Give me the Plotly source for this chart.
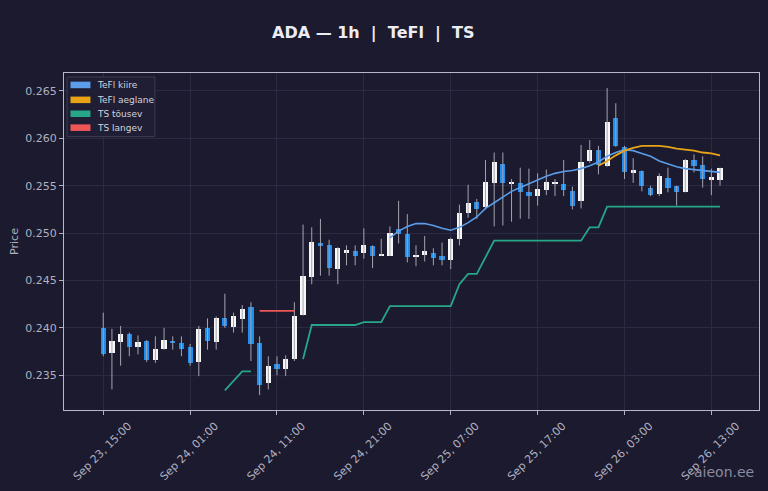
import plotly.graph_objects as go
import pandas as pd

# hourly candles, Sep 23 15:00 -> Sep 26 14:00
times = pd.date_range("2025-09-23 15:00", periods=72, freq="h")

opens = [0.2400, 0.2373, 0.2385, 0.2394, 0.2380, 0.2386, 0.2366, 0.2378, 0.2386, 0.2384,
         0.2380, 0.2364, 0.2400, 0.2385, 0.2410, 0.2401, 0.2409, 0.2422, 0.2384, 0.2342,
         0.2362, 0.2357, 0.2367, 0.2414, 0.2454, 0.2490, 0.2487, 0.2462, 0.2480, 0.2481,
         0.2479, 0.2486, 0.2476, 0.2476, 0.2504, 0.2499, 0.2475, 0.2477, 0.2479, 0.2476,
         0.2472, 0.2494, 0.2521, 0.2533, 0.2527, 0.2553, 0.2573, 0.2552, 0.2553, 0.2543,
         0.2539, 0.2545, 0.2552, 0.2552, 0.2544, 0.2534, 0.2576, 0.2588, 0.2571, 0.2621,
         0.2591, 0.2563, 0.2566, 0.2548, 0.2541, 0.2558, 0.2550, 0.2543, 0.2577, 0.2572,
         0.2556, 0.2556]
highs = [0.2416, 0.2399, 0.2402, 0.2395, 0.2392, 0.2387, 0.2391, 0.2400, 0.2391, 0.2391,
         0.2383, 0.2402, 0.2410, 0.2412, 0.2436, 0.2416, 0.2424, 0.2427, 0.2391, 0.2370,
         0.2370, 0.2371, 0.2427, 0.2509, 0.2506, 0.2515, 0.2493, 0.2485, 0.2487, 0.2487,
         0.2505, 0.2487, 0.2494, 0.2507, 0.2534, 0.2520, 0.2487, 0.2497, 0.2484, 0.2490,
         0.2495, 0.2530, 0.2551, 0.2536, 0.2577, 0.2585, 0.2585, 0.2557, 0.2569, 0.2568,
         0.2563, 0.2567, 0.2557, 0.2577, 0.2549, 0.2593, 0.2598, 0.2592, 0.2653, 0.2637,
         0.2592, 0.2579, 0.2566, 0.2550, 0.2563, 0.2569, 0.2550, 0.2578, 0.2583, 0.2581,
         0.2568, 0.2569]
lows = [0.2370, 0.2335, 0.2360, 0.2370, 0.2372, 0.2364, 0.2363, 0.2377, 0.2377, 0.2370,
        0.2360, 0.2349, 0.2377, 0.2377, 0.2400, 0.2395, 0.2395, 0.2365, 0.2329, 0.2335,
        0.2350, 0.2349, 0.2365, 0.2413, 0.2446, 0.2455, 0.2455, 0.2446, 0.2466, 0.2466,
        0.2473, 0.2463, 0.2476, 0.2476, 0.2489, 0.2469, 0.2465, 0.2470, 0.2466, 0.2466,
        0.2462, 0.2487, 0.2516, 0.2515, 0.2525, 0.2507, 0.2508, 0.2512, 0.2515, 0.2515,
        0.2529, 0.2540, 0.2539, 0.2539, 0.2525, 0.2526, 0.2574, 0.2562, 0.2570, 0.2591,
        0.2557, 0.2553, 0.2544, 0.2539, 0.2539, 0.2543, 0.2529, 0.2543, 0.2564, 0.2548,
        0.2540, 0.2550]
closes = [0.2372, 0.2386, 0.2393, 0.2380, 0.2385, 0.2366, 0.2378, 0.2387, 0.2384, 0.2378,
          0.2363, 0.2399, 0.2386, 0.2410, 0.2402, 0.2412, 0.2420, 0.2383, 0.2340, 0.2360,
          0.2357, 0.2367, 0.2413, 0.2455, 0.2491, 0.2486, 0.2463, 0.2484, 0.2482, 0.2476,
          0.2487, 0.2476, 0.2477, 0.2500, 0.2499, 0.2475, 0.2477, 0.2481, 0.2474, 0.2472,
          0.2494, 0.2521, 0.2532, 0.2525, 0.2554, 0.2575, 0.2553, 0.2554, 0.2543, 0.2539,
          0.2546, 0.2554, 0.2554, 0.2545, 0.2529, 0.2575, 0.2588, 0.2572, 0.2617, 0.2592,
          0.2564, 0.2567, 0.2550, 0.2540, 0.2560, 0.2548, 0.2543, 0.2577, 0.2571, 0.2557,
          0.2559, 0.2569]

# indicators (None = not drawn)
tefl_fast = [None] * 33 + [
    0.2495, 0.2502, 0.2507, 0.2510, 0.2510, 0.2508, 0.2505, 0.2503, 0.2506, 0.2511,
    0.2517, 0.2526, 0.2532, 0.2538, 0.2544, 0.2548, 0.2552, 0.2556, 0.2560, 0.2563,
    0.2565, 0.2566, 0.2568, 0.2571, 0.2575, 0.2581, 0.2585, 0.2588, 0.2587, 0.2584,
    0.2581, 0.2576, 0.2573, 0.2570, 0.2568, 0.2567, 0.2566, 0.2565, 0.2564]
tefl_slow = [None] * 57 + [
    0.2571, 0.2576, 0.2582, 0.2587, 0.2590, 0.2592, 0.2592, 0.2592, 0.2591, 0.2589,
    0.2588, 0.2587, 0.2585, 0.2584, 0.2582]
ts_up = [None] * 14 + [0.2334, 0.2344, 0.2354, 0.2354] + [None] * 5 + [
    0.2367, 0.2403, 0.2403, 0.2403, 0.2403, 0.2403, 0.2403, 0.2406, 0.2406, 0.2406,
    0.2423, 0.2423, 0.2423, 0.2423, 0.2423, 0.2423, 0.2423, 0.2423, 0.2446, 0.2457,
    0.2457, 0.2475, 0.2492, 0.2492, 0.2492, 0.2492, 0.2492, 0.2492, 0.2492, 0.2492,
    0.2492, 0.2492, 0.2492, 0.2506, 0.2506, 0.2528, 0.2528, 0.2528, 0.2528, 0.2528,
    0.2528, 0.2528, 0.2528, 0.2528, 0.2528, 0.2528, 0.2528, 0.2528, 0.2528]
ts_down = [None] * 18 + [0.2418, 0.2418, 0.2418, 0.2418, 0.2418] + [None] * 49

tick_times = pd.date_range("2025-09-23 15:00", periods=8, freq="10h")
tick_labels = [t.strftime("%b %d, %H:%M") for t in tick_times]
y_ticks = [0.235, 0.240, 0.245, 0.250, 0.255, 0.260, 0.265]

legend_names = ["TeFl kiire", "TeFl aeglane", "TS tõusev", "TS langev"]

BG = "#1b1a2e"
UP = "#f7f7f7"
DOWN = "#1e8ff0"
C_FAST = "#5b9de8"
C_SLOW = "#e8a317"
C_UP = "#27a68a"
C_DOWN = "#ef5656"
legend_colors = [C_FAST, C_SLOW, C_UP, C_DOWN]

# plot area in pixels
L, R, T, B = 64, 760, 73, 412


def px(x):
    return (x - L) / (R - L)


def py(y):
    return (B - y) / (B - T)


fig = go.Figure()

# wicks
wx, wy = [], []
for t, lo, hi in zip(times, lows, highs):
    wx += [t, t, None]
    wy += [lo, hi, None]
fig.add_trace(go.Scatter(x=wx, y=wy, mode="lines", line=dict(color="#a4a4b0", width=1),
                         hoverinfo="skip", showlegend=False))

# bodies
base = [min(o, c) for o, c in zip(opens, closes)]
height = [max(abs(c - o), 0.00008) for o, c in zip(opens, closes)]
colors = [UP if c >= o else DOWN for o, c in zip(opens, closes)]
fig.add_trace(go.Bar(x=times, y=height, base=base, width=0.6 * 3600 * 1000,
                     marker=dict(color=colors, line=dict(width=0)), showlegend=False))

fig.add_trace(go.Scatter(x=times, y=tefl_fast, mode="lines", name=legend_names[0],
                         line=dict(color=C_FAST, width=1.6)))
fig.add_trace(go.Scatter(x=times, y=tefl_slow, mode="lines", name=legend_names[1],
                         line=dict(color=C_SLOW, width=1.8)))
fig.add_trace(go.Scatter(x=times, y=ts_up, mode="lines", name=legend_names[2],
                         line=dict(color=C_UP, width=1.8)))
fig.add_trace(go.Scatter(x=times, y=ts_down, mode="lines", name=legend_names[3],
                         line=dict(color=C_DOWN, width=1.8)))

# legend box drawn like matplotlib's patch legend
shapes = [dict(type="rect", xref="paper", yref="paper", layer="above",
               x0=px(67), x1=px(155), y0=py(137), y1=py(77),
               fillcolor="#1f1e34", line=dict(color="#3c3c54", width=1))]
annotations = []
item_y = [85, 100, 114, 128]
for name, col, yc in zip(legend_names, legend_colors, item_y):
    shapes.append(dict(type="rect", xref="paper", yref="paper", layer="above",
                       x0=px(70.5), x1=px(90.5), y0=py(yc + 3.3), y1=py(yc - 3.3),
                       fillcolor=col, line=dict(width=0)))
    annotations.append(dict(text=name, xref="paper", yref="paper", x=px(95.5), y=py(yc),
                            xanchor="left", yanchor="middle", showarrow=False,
                            font=dict(size=9, color="#d4d4dc")))

annotations.append(dict(text="aieon.ee", xref="paper", yref="paper", x=px(757), y=py(474),
                        xanchor="right", yanchor="middle", showarrow=False,
                        font=dict(size=14, color="#8a8aa0")))

fig.update_layout(
    width=768, height=491,
    paper_bgcolor=BG, plot_bgcolor=BG,
    margin=dict(l=L, r=768 - R, t=T, b=491 - B),
    font=dict(family="DejaVu Sans", color="#b0b0c0", size=11),
    title=dict(text="ADA — 1h \u00a0|\u00a0 TeFl \u00a0|\u00a0 TS", x=0.486, y=0.933,
               xanchor="center", yanchor="middle",
               font=dict(family="DejaVu Sans", size=16, color="#ececf4", weight="bold")),
    showlegend=False,
    bargap=0,
    shapes=shapes,
    annotations=annotations,
)

fig.update_xaxes(
    range=["2025-09-23 10:29", "2025-09-26 18:29"],
    tickvals=tick_times, ticktext=tick_labels, tickangle=-45,
    ticks="outside", ticklen=4, tickcolor="#b0b0c0", ticklabelshift=25,
    showgrid=True, gridcolor="#2b2a44", gridwidth=1, zeroline=False,
    showline=True, linecolor="#b8b8cc", linewidth=1.2, mirror=True,
)
fig.update_yaxes(
    range=[0.23133, 0.26689],
    tickvals=y_ticks, tickformat=".3f",
    ticks="outside", ticklen=4, tickcolor="#b0b0c0",
    showgrid=True, gridcolor="#2b2a44", gridwidth=1, zeroline=False,
    showline=True, linecolor="#b8b8cc", linewidth=1.2, mirror=True,
    title=dict(text="Price", font=dict(size=11, color="#b0b0c0"), standoff=4),
)

fig.write_html("out.html", config={"displayModeBar": False},
               post_script="document.body.style.margin='0';")
